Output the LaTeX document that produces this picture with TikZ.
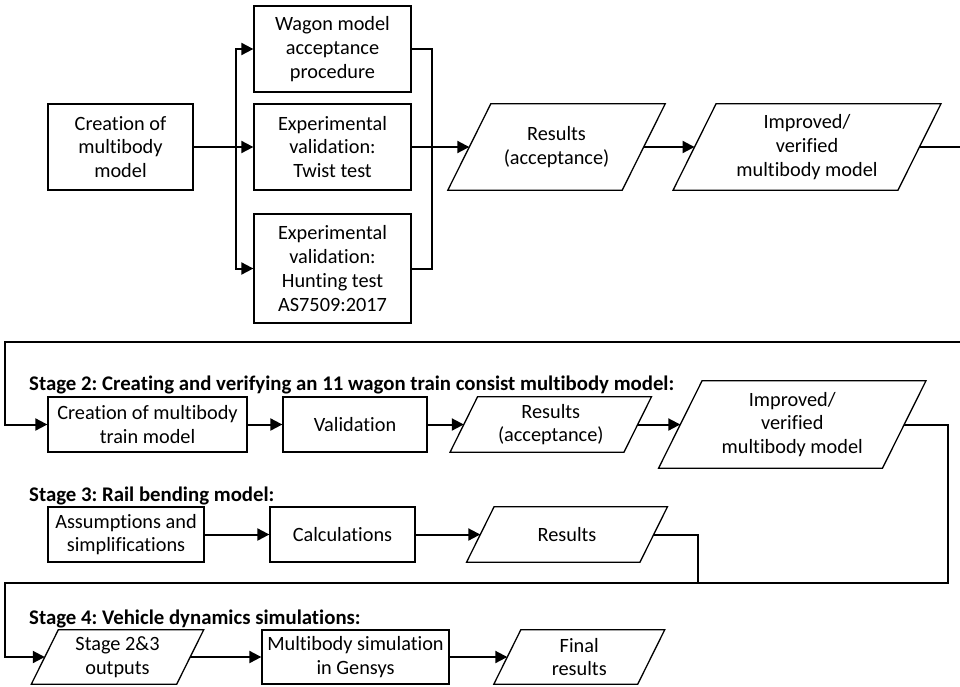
\documentclass[tikz,border=0pt]{standalone}
\usepackage{fontspec}
\setmainfont{Carlito}[Ligatures=NoCommon]
\usetikzlibrary{arrows.meta,calc}
\frenchspacing

% outline of a slanted data box around an invisible rectangle node
\newcommand\slantbox[2]{%
  \draw[frame] ($(#1.north west)+(#2,0)$) -- ($(#1.north east)+(#2,0)$)
    -- ($(#1.south east)-(#2,0)$) -- ($(#1.south west)-(#2,0)$) -- cycle;}

\begin{document}
\begin{tikzpicture}[x=1pt,y=-1pt,
  txt/.style={font=\fontsize{20.3}{23.8}\selectfont, align=center, inner sep=0pt},
  frame/.style={line width=1.3pt, line join=miter},
  box/.style 2 args={txt, draw, frame, minimum width=#1, minimum height=#2},
  para/.style 2 args={txt, minimum width=#1, minimum height=#2},
  heading/.style={font=\bfseries\fontsize{20.8}{24}\selectfont, inner sep=0pt, anchor=base west},
  link/.style={line width=2pt},
  arr/.style={link, -{Triangle[length=12pt,width=12pt]}}]
\useasboundingbox (0,0) rectangle (960,686);

% ---- Stage 1: single wagon model
\node[box={145}{86}] (c1) at (120.5,147) {Creation of\\multibody\\model};
\node[box={157}{86}] (wag) at (332.5,49) {Wagon model\\acceptance\\procedure};
\node[box={157}{86}] (tw) at (332.5,147) {Experimental\\validation:\\Twist test};
\node[box={157}{109}] (hun) at (332.5,268.5) {Experimental\\validation:\\Hunting test\\AS7509:2017};
\node[para={174}{86}] (res1) at (556.5,147) {Results\\(acceptance)};
\slantbox{res1}{21.5}
\node[para={224.5}{86}] (imp1) at (807,147) {Improved/\\verified\\multibody model};
\slantbox{imp1}{21.5}

\coordinate (br) at (236,147);
\coordinate (mg) at (432,147);
\draw[arr] (c1.east) -- (tw.west);
\draw[arr] (br) |- (wag.west);
\draw[arr] (br) |- (hun.west);
\draw[link] (wag.east) -| (mg);
\draw[link] (hun.east) -| (mg);
\draw[arr] (tw.east) -- (res1.west);
\draw[arr] (res1.east) -- (imp1.west);

% ---- Stage 2: train consist model
\node[heading] (h2) at (29,390) {Stage 2: Creating and verifying an 11 wagon train consist multibody model:};
\node[box={199}{55}] (c2) at (147.5,424.5) {Creation of multibody\\train model};
\node[box={144}{55}] (val) at (355,424.5) {Validation};
\node[para={173.5}{55}] (res2) at (550.75,424.5) {Results\\(acceptance)};
\slantbox{res2}{13.75}
\node[para={223.5}{87}] (imp2) at (792.25,424.5) {Improved/\\verified\\multibody model};
\slantbox{imp2}{21.75}

\coordinate (e1) at (961,341.5);
\coordinate (w1) at (5,341.5);
\draw[arr] (imp1.east) -| (e1) -- (w1) |- (c2.west);
\draw[arr] (c2.east) -- (val.west);
\draw[arr] (val.east) -- (res2.west);
\draw[arr] (res2.east) -- (imp2.west);

% ---- Stage 3: rail bending
\node[heading] (h3) at (29,501) {Stage 3: Rail bending model:};
\node[box={156}{55}] (as) at (126,534.5) {Assumptions and\\simplifications};
\node[box={145}{55}] (calc) at (342.5,534.5) {Calculations};
\node[para={173}{55}] (res3) at (567,534.5) {Results};
\slantbox{res3}{13.75}

\coordinate (j3) at (698,583);
\draw[arr] (as.east) -- (calc.west);
\draw[arr] (calc.east) -- (res3.west);
\draw[link] (res3.east) -| (j3);

% ---- Stage 4: vehicle dynamics
\node[heading] (h4) at (29,624) {Stage 4: Vehicle dynamics simulations:};
\node[para={145}{54}] (s4) at (117.5,657) {Stage 2\&3\\outputs};
\slantbox{s4}{13.5}
\node[box={187}{54}] (mb) at (355.5,657) {Multibody simulation\\in Gensys};
\node[para={143.5}{54}] (fin) at (579.25,657) {Final\\results};
\slantbox{fin}{13.5}

\coordinate (e2) at (948,583);
\coordinate (w2) at (5,583);
\draw[arr] (imp2.east) -| (e2) -- (w2) |- (s4.west);
\draw[arr] (s4.east) -- (mb.west);
\draw[arr] (mb.east) -- (fin.west);
\end{tikzpicture}
\end{document}
